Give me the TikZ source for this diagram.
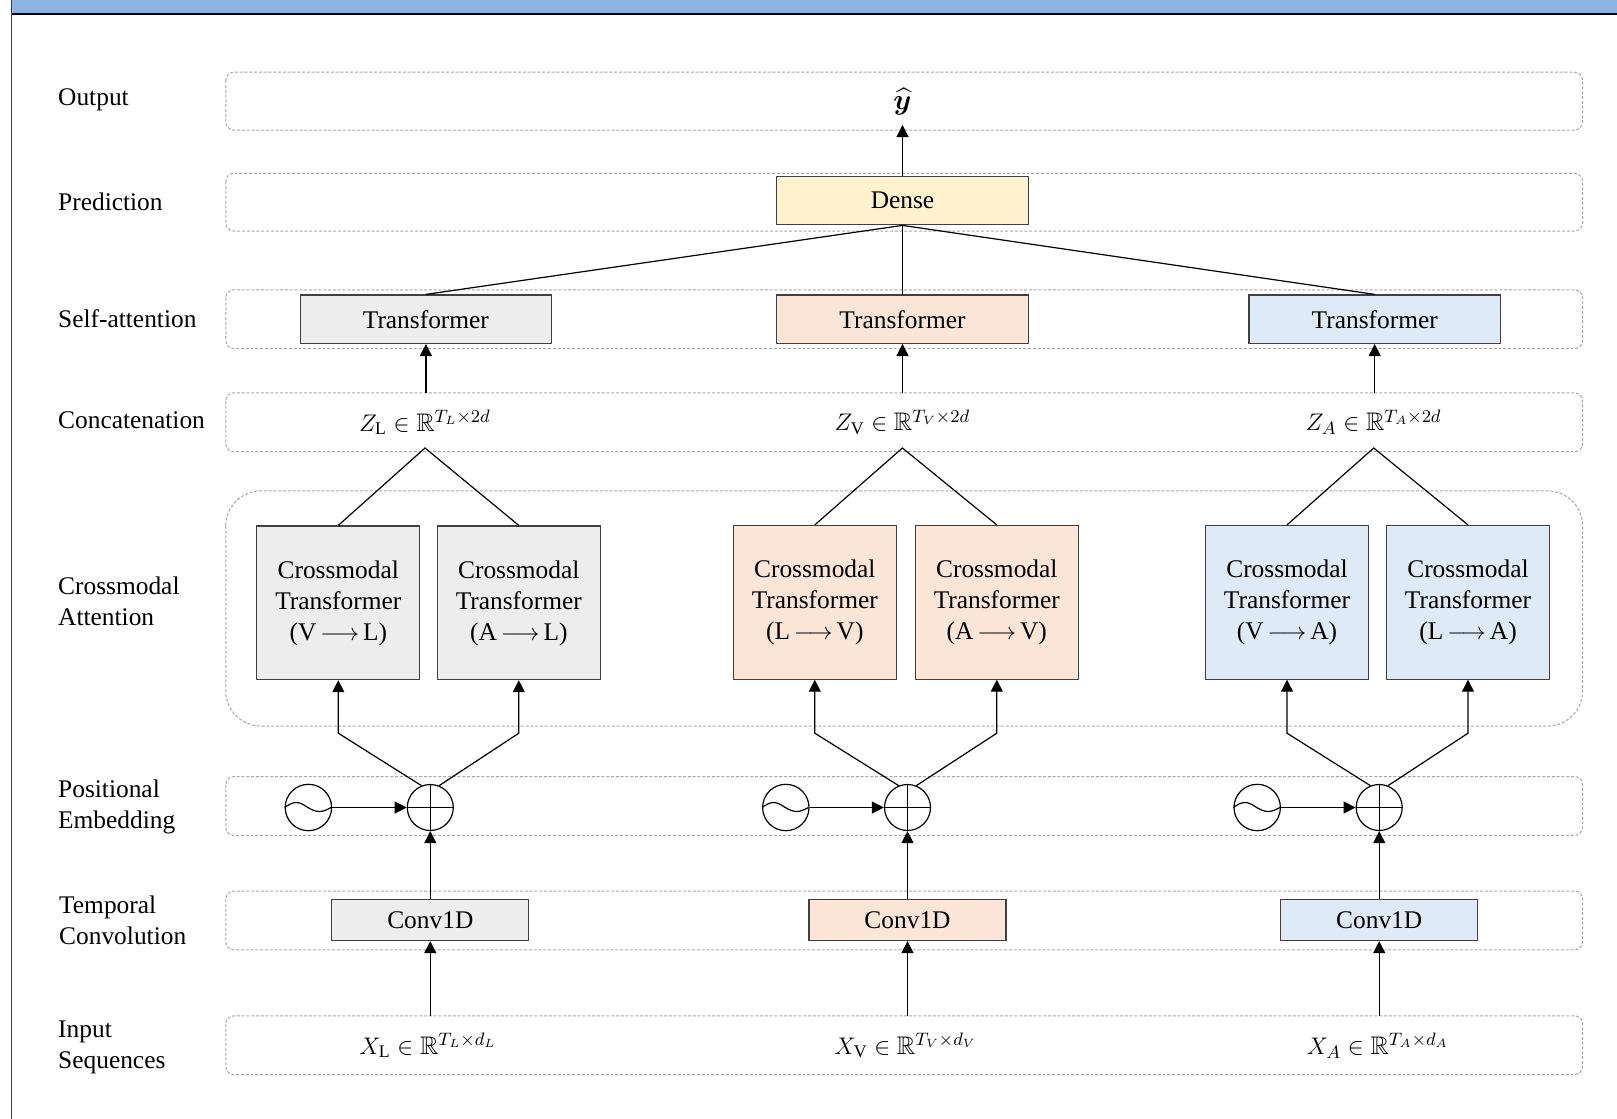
\documentclass[tikz,border=0pt]{standalone}
\usepackage{fontspec}
\setmainfont{Liberation Serif}
\usepackage{amssymb,amsmath,bm}
\usetikzlibrary{arrows.meta}
\definecolor{hdr}{HTML}{8EB4E3}
\definecolor{gL}{HTML}{EDEDED}
\definecolor{gV}{HTML}{FBE5D6}
\definecolor{gA}{HTML}{DEEBF7}
\definecolor{gD}{HTML}{FFF2CC}
\definecolor{bandc}{HTML}{A6A6A6}
\definecolor{boxc}{HTML}{404040}
\newcommand{\cmtext}[1]{\raisebox{-2pt}{\begin{tabular}{@{}c@{}}Crossmodal\\Transformer\\#1\end{tabular}}}
\begin{document}
\begin{tikzpicture}[x=0.5pt,y=-0.5pt,
  every node/.style={font=\fontsize{12.7}{15.5}\selectfont, inner sep=0pt},
  band/.style={draw=bandc, dash pattern=on 1.5pt off 0.9pt, line width=0.5pt, rounded corners=4pt},
  lbl/.style={anchor=west, align=left},
  blk/.style={draw=boxc, line width=0.6pt, align=center},
  wide/.style={blk, minimum width=125.8pt, minimum height=24.2pt},
  cross/.style={blk, minimum width=81.5pt, minimum height=76.8pt},
  conv/.style={blk, minimum width=98.5pt, minimum height=20.6pt},
  wavec/.style={draw, line width=0.6pt, circle, minimum size=23.2pt},
  pluscirc/.style={draw, line width=0.6pt, circle, minimum size=23pt},
  ln/.style={line width=0.6pt},
  arr/.style={ln, -{Triangle[length=6pt,width=6pt]}}
]
\useasboundingbox (0,0) rectangle (1617,1119);
% header frame
\fill[hdr] (11,0) rectangle (1617,13);
\draw[line width=1.3pt] (11,14) -- (1617,14);
\draw[line width=0.8pt, black!75] (11.5,0) -- (11.5,1119);

% bands
\draw[band] (225.8,72.2) rectangle (1582.5,130);
\draw[band] (225.8,173.3) rectangle (1582.5,231);
\draw[band] (225.8,289.8) rectangle (1582.5,348.6);
\draw[band] (225.8,392.9) rectangle (1582.5,451.7);
\draw[band, rounded corners=17.5pt] (225.8,490.9) rectangle (1582.5,726);
\draw[band] (225.8,776.6) rectangle (1582.5,835.3);
\draw[band] (225.8,891) rectangle (1582.5,949.8);
\draw[band] (225.8,1015.8) rectangle (1582.5,1074.6);

% left labels
\node[lbl] (lO) at (57.8,99.9) {Output};
\node[lbl] (lP) at (57.8,202.1) {Prediction};
\node[lbl] (lS) at (57.8,318.7) {Self-attention};
\node[lbl] (lC) at (57.8,420.7) {Concatenation};
\node[lbl] (lX) at (57.8,601.7) {Crossmodal\\Attention};
\node[lbl] (lE) at (57.8,806.5) {Positional\\Embedding};
\node[lbl] (lT) at (58.8,920.5) {Temporal\\Convolution};
\node[lbl] (lI) at (57.8,1047.2) {Input\\Sequences};

% output / dense
\node (yh) at (902.5,102) {\fontsize{14}{16}\selectfont$\widehat{\bm{y}}$};
\coordinate (yt) at (902.5,125);
\node[wide, fill=gD] (D) at (902.5,200.6) {Dense};
\draw[arr] (D.north) -- (yt);

% self-attention transformers
\node[wide, fill=gL] (tL) at (425.9,319.2) {Transformer};
\node[wide, fill=gV] (tV) at (902.5,319.2) {Transformer};
\node[wide, fill=gA] (tA) at (1374.7,319.2) {Transformer};
\draw[ln] (tL.north) -- (D.south);
\draw[ln] (tV.north) -- (D.south);
\draw[ln] (tA.north) -- (D.south);

% concatenation
\node (zL) at (424.9,422.3) {$Z_{\mathrm{L}} \in \mathbb{R}^{T_L\times 2d}$};
\node (zV) at (902.4,422.3) {$Z_{\mathrm{V}} \in \mathbb{R}^{T_V\times 2d}$};
\node (zA) at (1373.7,422.3) {$Z_{A} \in \mathbb{R}^{T_A\times 2d}$};
\coordinate (cL) at (425.9,392.9);
\coordinate (cV) at (902.5,392.9);
\coordinate (cA) at (1374.7,392.9);
\draw[arr] (cL) -- (tL.south);
\draw[arr] (cV) -- (tV.south);
\draw[arr] (cA) -- (tA.south);
\coordinate (aL) at (425,448);
\coordinate (aV) at (902.4,448);
\coordinate (aA) at (1373.7,448);

% crossmodal transformers
\node[cross, fill=gL] (L1) at (338.3,602.8) {\cmtext{(V$\,\longrightarrow\,$L)}};
\node[cross, fill=gL] (L2) at (518.8,602.8) {\cmtext{(A$\,\longrightarrow\,$L)}};
\node[cross, fill=gV] (V1) at (814.8,602.3) {\cmtext{(L$\,\longrightarrow\,$V)}};
\node[cross, fill=gV] (V2) at (996.8,602.3) {\cmtext{(A$\,\longrightarrow\,$V)}};
\node[cross, fill=gA] (A1) at (1287,602.3) {\cmtext{(V$\,\longrightarrow\,$A)}};
\node[cross, fill=gA] (A2) at (1468,602.3) {\cmtext{(L$\,\longrightarrow\,$A)}};
\draw[ln] (L1.north) -- (aL) -- (L2.north);
\draw[ln] (V1.north) -- (aV) -- (V2.north);
\draw[ln] (A1.north) -- (aA) -- (A2.north);

% positional embedding
\node[wavec] (sL) at (308.4,807.5) {};
\node[wavec] (sV) at (785.8,807.5) {};
\node[wavec] (sA) at (1257.2,807.5) {};
\foreach \s in {sL,sV,sA}{
  \draw[ln] (\s.west) sin ++(11.6,-5) cos ++(11.6,5) sin ++(11.6,4) cos ++(11.6,-4);
}
\node[pluscirc] (pL) at (430.3,807.5) {};
\node[pluscirc] (pV) at (907.5,807.5) {};
\node[pluscirc] (pA) at (1379.2,807.5) {};
\foreach \p in {pL,pV,pA}{
  \draw[ln] (\p.north) -- (\p.south) (\p.west) -- (\p.east);
}
\draw[arr] (sL) -- (pL);
\draw[arr] (sV) -- (pV);
\draw[arr] (sA) -- (pA);

\coordinate (bL1) at (338.3,733.2);
\coordinate (bL2) at (518.8,733.2);
\coordinate (bV1) at (814.8,733.2);
\coordinate (bV2) at (996.8,733.2);
\coordinate (bA1) at (1287,733.2);
\coordinate (bA2) at (1468,733.2);
\draw[arr] (pL.112) -- (bL1) -- (L1.south);
\draw[arr] (pL.68) -- (bL2) -- (L2.south);
\draw[arr] (pV.112) -- (bV1) -- (V1.south);
\draw[arr] (pV.68) -- (bV2) -- (V2.south);
\draw[arr] (pA.112) -- (bA1) -- (A1.south);
\draw[arr] (pA.68) -- (bA2) -- (A2.south);

% temporal convolution
\node[conv, fill=gL] (kL) at (430.3,919.9) {Conv1D};
\node[conv, fill=gV] (kV) at (907.5,919.9) {Conv1D};
\node[conv, fill=gA] (kA) at (1379.2,919.9) {Conv1D};
\draw[arr] (kL.north) -- (pL.south);
\draw[arr] (kV.north) -- (pV.south);
\draw[arr] (kA.north) -- (pA.south);

% inputs
\coordinate (iL) at (430.3,1015.8);
\coordinate (iV) at (907.5,1015.8);
\coordinate (iA) at (1379.2,1015.8);
\draw[arr] (iL) -- (kL.south);
\draw[arr] (iV) -- (kV.south);
\draw[arr] (iA) -- (kA.south);
\node (xL) at (428,1045.5) {$X_{\mathrm{L}} \in \mathbb{R}^{T_L\times d_L}$};
\node (xV) at (905.5,1045.5) {$X_{\mathrm{V}} \in \mathbb{R}^{T_V\times d_V}$};
\node (xA) at (1377.8,1045.5) {$X_{A} \in \mathbb{R}^{T_A\times d_A}$};
\end{tikzpicture}
\end{document}
